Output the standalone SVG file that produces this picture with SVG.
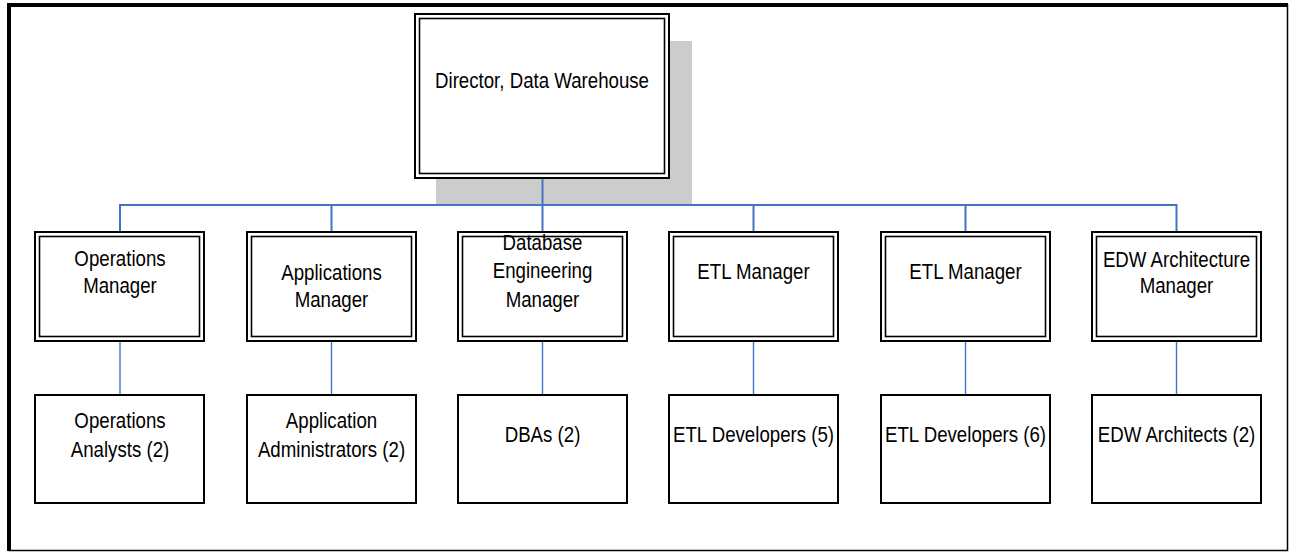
<svg xmlns="http://www.w3.org/2000/svg" width="1289" height="552" viewBox="0 0 1289 552">
<style>
.t{font-family:"Liberation Sans","Arial",sans-serif;font-size:22.5px;fill:#000;text-anchor:middle}
.ob{fill:#fff;stroke:#000;stroke-width:2}
.ib{fill:none;stroke:#000;stroke-width:1.6}
.bb{fill:#fff;stroke:#000;stroke-width:2}
.c{fill:none;stroke:#4472C4;stroke-width:2}
.c2{fill:none;stroke:#4472C4;stroke-width:1.4}
</style>
<rect x="0" y="0" width="1289" height="552" fill="#fff"/>
<g id="frame">
<rect x="9" y="5" width="1278.5" height="545.5" fill="none" stroke="#000" stroke-width="1.5"/>
<line x1="9" y1="3" x2="9" y2="551" stroke="#000" stroke-width="4"/>
<line x1="7" y1="5" x2="1288" y2="5" stroke="#000" stroke-width="4"/>
</g>
<rect id="shadow" x="436" y="41" width="256" height="163" fill="#CCCCCC"/>
<g id="connectors">
<line class="c" x1="542.5" y1="178" x2="542.5" y2="205"/>
<polyline class="c" points="120,232 120,205 1176.5,205 1176.5,232"/>
<line class="c" x1="331.5" y1="205" x2="331.5" y2="232"/>
<line class="c" x1="542.5" y1="205" x2="542.5" y2="232"/>
<line class="c" x1="753.5" y1="205" x2="753.5" y2="232"/>
<line class="c" x1="965.5" y1="205" x2="965.5" y2="232"/>
<line class="c2" x1="120" y1="341" x2="120" y2="395"/>
<line class="c2" x1="331.5" y1="341" x2="331.5" y2="395"/>
<line class="c2" x1="542.5" y1="341" x2="542.5" y2="395"/>
<line class="c2" x1="753.5" y1="341" x2="753.5" y2="395"/>
<line class="c2" x1="965.5" y1="341" x2="965.5" y2="395"/>
<line class="c2" x1="1176.5" y1="341" x2="1176.5" y2="395"/>
</g>
<g id="director">
<rect class="ob" x="415" y="14" width="254" height="164"/>
<rect class="ib" x="419.5" y="18.5" width="245" height="155"/>
<text class="t" transform="translate(542,88) scale(0.83,1)">Director, Data Warehouse</text>
</g>
<g id="ops-mgr">
<rect class="ob" x="35" y="232" width="169" height="109"/>
<rect class="ib" x="39.5" y="236.5" width="160" height="100"/>
<text class="t" transform="translate(120,266) scale(0.83,1)">Operations</text>
<text class="t" transform="translate(120,293) scale(0.83,1)">Manager</text>
</g>
<g id="app-mgr">
<rect class="ob" x="247" y="232" width="169" height="109"/>
<rect class="ib" x="251.5" y="236.5" width="160" height="100"/>
<text class="t" transform="translate(331.5,280) scale(0.83,1)">Applications</text>
<text class="t" transform="translate(331.5,307) scale(0.83,1)">Manager</text>
</g>
<g id="db-mgr">
<rect class="ob" x="458" y="232" width="169" height="109"/>
<rect class="ib" x="462.5" y="236.5" width="160" height="100"/>
<text class="t" transform="translate(542.5,250) scale(0.83,1)">Database</text>
<text class="t" transform="translate(542.5,278) scale(0.83,1)">Engineering</text>
<text class="t" transform="translate(542.5,307) scale(0.83,1)">Manager</text>
</g>
<g id="etl-mgr-1">
<rect class="ob" x="669" y="232" width="169" height="109"/>
<rect class="ib" x="673.5" y="236.5" width="160" height="100"/>
<text class="t" transform="translate(753.5,279) scale(0.83,1)">ETL Manager</text>
</g>
<g id="etl-mgr-2">
<rect class="ob" x="881" y="232" width="169" height="109"/>
<rect class="ib" x="885.5" y="236.5" width="160" height="100"/>
<text class="t" transform="translate(965.5,279) scale(0.83,1)">ETL Manager</text>
</g>
<g id="edw-mgr">
<rect class="ob" x="1092" y="232" width="169" height="109"/>
<rect class="ib" x="1096.5" y="236.5" width="160" height="100"/>
<text class="t" transform="translate(1176.5,267) scale(0.83,1)">EDW Architecture</text>
<text class="t" transform="translate(1176.5,293) scale(0.83,1)">Manager</text>
</g>
<g id="ops-analysts">
<rect class="bb" x="35" y="395" width="169" height="108"/>
<text class="t" transform="translate(120,428) scale(0.83,1)">Operations</text>
<text class="t" transform="translate(120,457) scale(0.83,1)">Analysts (2)</text>
</g>
<g id="app-admins">
<rect class="bb" x="247" y="395" width="169" height="108"/>
<text class="t" transform="translate(331.5,428) scale(0.83,1)">Application</text>
<text class="t" transform="translate(331.5,457) scale(0.83,1)">Administrators (2)</text>
</g>
<g id="dbas">
<rect class="bb" x="458" y="395" width="169" height="108"/>
<text class="t" transform="translate(542.5,442) scale(0.83,1)">DBAs (2)</text>
</g>
<g id="etl-dev-5">
<rect class="bb" x="669" y="395" width="169" height="108"/>
<text class="t" transform="translate(753.5,442) scale(0.83,1)">ETL Developers (5)</text>
</g>
<g id="etl-dev-6">
<rect class="bb" x="881" y="395" width="169" height="108"/>
<text class="t" transform="translate(965.5,442) scale(0.83,1)">ETL Developers (6)</text>
</g>
<g id="edw-architects">
<rect class="bb" x="1092" y="395" width="169" height="108"/>
<text class="t" transform="translate(1176.5,442) scale(0.83,1)">EDW Architects (2)</text>
</g>
</svg>
